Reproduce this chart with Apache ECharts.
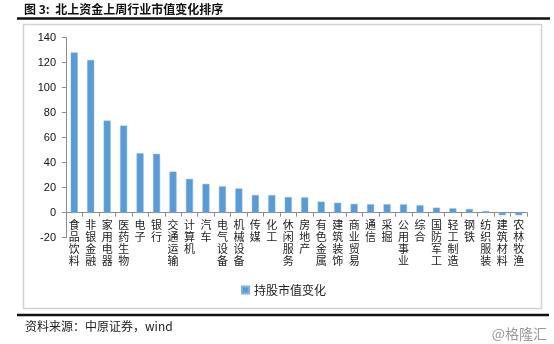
<!DOCTYPE html>
<html>
<head>
<meta charset="utf-8">
<script src="https://cdn.jsdelivr.net/npm/echarts@6/dist/echarts.min.js"></script>
<style>
html,body{margin:0;padding:0;background:#fff;}
#c{width:554px;height:344px;}
</style>
</head>
<body>
<div id="c"></div>
<script>
var categories = ['食品饮料','非银金融','家用电器','医药生物','电子','银行','交通运输','计算机','汽车','电气设备','机械设备','传媒','化工','休闲服务','房地产','有色金属','建筑装饰','商业贸易','通信','采掘','公用事业','综合','国防军工','轻工制造','钢铁','纺织服装','建筑材料','农林牧渔'];
var values = [128,122,73.6,69.6,47.5,47,32.8,27,23,21,19.3,14.1,14,12.5,12.2,8.8,7.9,7,6.7,6.7,6.6,5.9,4,3.4,2.9,1.3,-2,-2];
var yTicks = [-20, 0, 20, 40, 60, 80, 100, 120, 140];
var seriesName = '持股市值变化';
var titleText = '图 3:  北上资金上周行业市值变化排序';
var sourceText = '资料来源：中原证券，wind';
var watermarkText = '@格隆汇';

var font = '"Noto Sans CJK SC", "Liberation Sans", Arial, sans-serif';
var yMin = yTicks[0], yMax = yTicks[yTicks.length - 1];
var gridTop = 37.5, gridBottomY = 237.7;
var zeroOffset = -(gridBottomY - gridTop) * (0 - yMin) / (yMax - yMin);
var chart = echarts.init(document.getElementById('c'), null, {renderer: 'canvas'});
chart.setOption({
  animation: false,
  backgroundColor: '#fff',
  textStyle: {fontFamily: font},
  grid: {left: 66, right: 27, top: gridTop, bottom: 344 - gridBottomY, containLabel: false},
  legend: {
    data: [seriesName],
    left: 241, top: 284, padding: 0,
    icon: 'rect', itemWidth: 7, itemHeight: 7, itemGap: 4,
    textStyle: {fontSize: 12, color: '#222', fontFamily: font}
  },
  graphic: [
    {type: 'text', left: 24, top: 3, style: {text: titleText, fontSize: 12, fontWeight: 'bold', fill: '#111', fontFamily: font}},
    {type: 'line', shape: {x1: 17, y1: 18.5, x2: 550, y2: 18.5}, style: {stroke: '#111', lineWidth: 2.5}},
    {type: 'rect', shape: {x: 23.5, y: 24.5, width: 518, height: 284}, style: {fill: 'none', stroke: '#d2d2d2', lineWidth: 1.5}},
    {type: 'line', shape: {x1: 17, y1: 315, x2: 549, y2: 315}, style: {stroke: '#111', lineWidth: 2.5}},
    {type: 'text', left: 25, top: 320, style: {text: sourceText, fontSize: 12, fill: '#222', fontFamily: font}},
    {type: 'text', right: 7, top: 327, style: {text: watermarkText, fontSize: 14, fill: '#9a9a9a', fontFamily: font}}
  ],
  xAxis: {
    type: 'category',
    data: categories,
    offset: zeroOffset,
    axisLine: {onZero: false, lineStyle: {color: '#8c8c8c', width: 1}},
    axisTick: {show: true, length: 4, lineStyle: {color: '#8c8c8c'}},
    axisLabel: {
      interval: 0, margin: 6, fontSize: 11, lineHeight: 12, color: '#222',
      verticalAlign: 'top', fontFamily: font,
      formatter: function (v) { return v.split('').join('\n'); }
    },
    splitLine: {show: false}
  },
  yAxis: {
    type: 'value',
    min: yMin, max: yMax, interval: 20,
    axisLine: {show: true, lineStyle: {color: '#8c8c8c', width: 1}},
    axisTick: {show: true, length: 4, lineStyle: {color: '#8c8c8c'}},
    axisLabel: {margin: 10, fontSize: 11, color: '#111', fontFamily: '"Liberation Sans", Arial, sans-serif'},
    splitLine: {show: false}
  },
  series: [{
    name: seriesName,
    type: 'bar',
    data: values,
    barWidth: 7,
    itemStyle: {color: '#5b9bd5', borderColor: '#7fb1e0', borderWidth: 0.5}
  }]
});
</script>
</body>
</html>
